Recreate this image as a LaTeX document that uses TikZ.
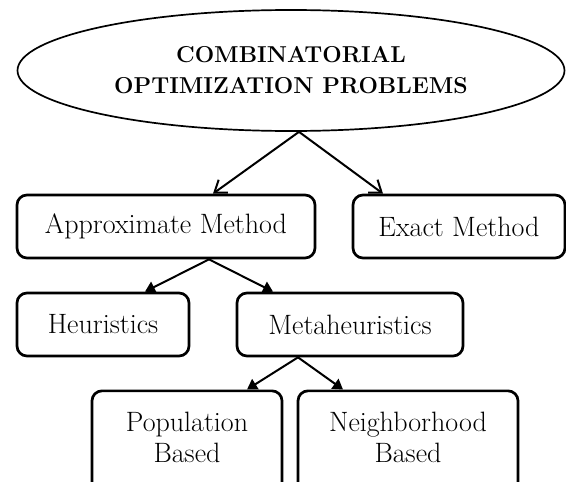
\documentclass[tikz,border=0pt]{standalone}
\usetikzlibrary{shapes.geometric,arrows.meta}
\tikzset{
  box/.style={draw, line width=2.7pt, rounded corners=10pt, inner sep=0pt, align=center,
    font=\fontsize{28}{31}\selectfont},
  tallbox/.style={box, anchor=north, inner ysep=21pt, text depth=60pt},
  openarr/.style={line width=2pt, -{Straight Barb[length=11pt,width=16pt,line width=2pt]}},
  filledarr/.style={line width=2pt, -{Triangle[length=10pt,width=12pt]}},
}
\begin{document}
\begin{tikzpicture}[x=1pt,y=-1pt]
\useasboundingbox (0,0) rectangle (566,482);
\node[ellipse, draw, line width=1.7pt, minimum width=547pt, minimum height=121pt, inner sep=0pt,
  align=center, font=\fontsize{23}{31}\selectfont\bfseries] (ell) at (291,70.5)
  {COMBINATORIAL\\OPTIMIZATION PROBLEMS};
\node[box, minimum width=298pt, minimum height=63pt] (appr) at (166,226.5) {Approximate Method};
\node[box, minimum width=212pt, minimum height=63pt] (exact) at (459,226.5) {Exact Method};
\node[box, minimum width=172pt, minimum height=63pt] (heur) at (103,324.5) {Heuristics};
\node[box, minimum width=226pt, minimum height=63pt] (meta) at (350,324.5) {Metaheuristics};
\node[tallbox, minimum width=190pt] (pop) at (187,389.5) {Population\\Based};
\node[tallbox, minimum width=220pt] (neigh) at (408,389.5) {Neighborhood\\Based};
\draw[openarr] ([xshift=8pt]ell.south) -- ([xshift=47pt]appr.north);
\draw[openarr] ([xshift=8pt]ell.south) -- ([xshift=-76pt]exact.north);
\draw[filledarr] ([xshift=43pt]appr.south) -- ([xshift=42pt]heur.north);
\draw[filledarr] ([xshift=43pt]appr.south) -- ([xshift=-77pt]meta.north);
\draw[filledarr] ([xshift=-52pt]meta.south) -- ([xshift=60pt]pop.north);
\draw[filledarr] ([xshift=-52pt]meta.south) -- ([xshift=-65pt]neigh.north);
\end{tikzpicture}
\end{document}
